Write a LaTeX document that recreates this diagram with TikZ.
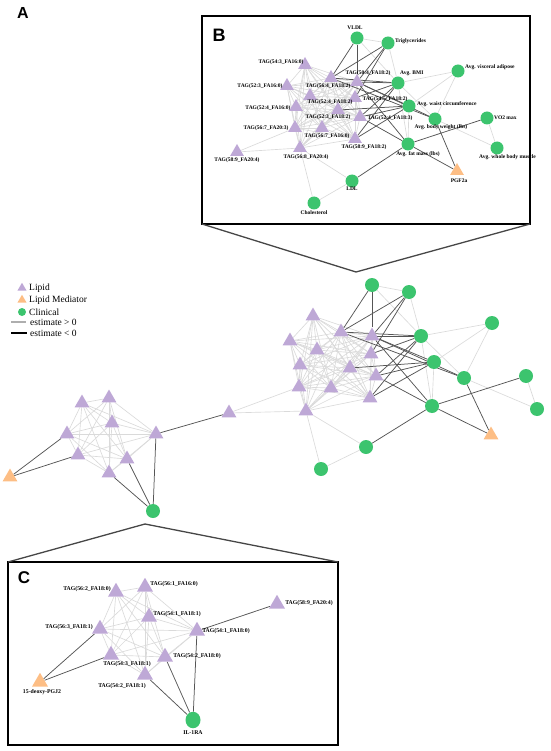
\documentclass[tikz,border=0pt]{standalone}
\usepackage{fontspec}
\setmainfont{Liberation Serif}
\setsansfont{Liberation Sans}
\usetikzlibrary{shapes.geometric}
\pgfdeclarelayer{bg}
\pgfsetlayers{bg,main}
\definecolor{lipidc}{RGB}{190,168,214}
\definecolor{medc}{RGB}{253,190,133}
\definecolor{clinc}{RGB}{60,196,110}
\definecolor{posc}{RGB}{218,218,218}
\definecolor{negc}{RGB}{85,85,85}
\definecolor{zoomc}{RGB}{70,70,70}
\tikzset{
  lip/.style={regular polygon, regular polygon sides=3, fill=lipidc, draw=none, inner sep=0pt, minimum size=17pt},
  med/.style={lip, fill=medc},
  cli/.style={circle, fill=clinc, draw=none, inner sep=0pt, minimum size=14pt},
  lipB/.style={lip, minimum size=16pt},
  medB/.style={med, minimum size=16pt},
  cliB/.style={cli, minimum size=13pt},
  lipC/.style={lip, minimum size=18.5pt},
  medC/.style={med, minimum size=18.5pt},
  cliC/.style={cli, minimum size=15.5pt},
  pe/.style={draw=posc, line width=0.65pt},
  ne/.style={draw=negc, line width=0.75pt},
  lblB/.style={font=\fontsize{5.5}{6}\selectfont\bfseries, inner sep=0pt},
  lblC/.style={font=\fontsize{5.8}{6.5}\selectfont\bfseries, inner sep=0pt},
  leg/.style={font=\fontsize{9.5}{10}\selectfont, inner sep=0pt, anchor=west},
  panel/.style={font=\sffamily\bfseries\fontsize{17}{18}\selectfont, inner sep=0pt},
  boxline/.style={draw=black, line width=2.4pt},
  zoomline/.style={draw=zoomc, line width=1.3pt}
}
\begin{document}
\begin{tikzpicture}[x=1pt,y=-1pt]
\useasboundingbox (0,0) rectangle (550,751);

% ---------- panel letters ----------
\node[panel, font=\sffamily\bfseries\fontsize{16}{17}\selectfont] (pA) at (23,13) {A};
\node[panel, font=\sffamily\bfseries\fontsize{18}{19}\selectfont] (pB) at (219,35) {B};
\node[panel] (pC) at (24,578) {C};

% ---------- legend ----------
\node[lip, minimum size=10.5pt] (lgL) at (22,288) {};
\node[leg] (lgLt) at (29,288) {Lipid};
\node[med, minimum size=10.5pt] (lgM) at (22,300) {};
\node[leg] (lgMt) at (29,300) {Lipid Mediator};
\node[cli, minimum size=8pt] (lgC) at (22,312) {};
\node[leg] (lgCt) at (29,312) {Clinical};
\coordinate (lgP1) at (11,322); \coordinate (lgP2) at (26,322);
\draw[draw=posc!80!black, line width=1.5pt] (lgP1) -- (lgP2);
\node[leg] (lgPt) at (30,322) {estimate > 0};
\coordinate (lgN1) at (11,333); \coordinate (lgN2) at (27,333);
\draw[draw=black, line width=2pt] (lgN1) -- (lgN2);
\node[leg] (lgNt) at (30,333) {estimate < 0};

% ---------- main network: right cluster ----------
\node[lip] (mL1) at (313,316) {};
\node[lip] (mL2) at (290,341) {};
\node[lip] (mL3) at (341,332) {};
\node[lip] (mL4) at (372,336) {};
\node[lip] (mL5) at (317,350) {};
\node[lip] (mL6) at (371,354) {};
\node[lip] (mL7) at (300,365) {};
\node[lip] (mL8) at (350,368) {};
\node[lip] (mL9) at (376,376) {};
\node[lip] (mL10) at (299,387) {};
\node[lip] (mL11) at (331,388) {};
\node[lip] (mL12) at (370,398) {};
\node[lip] (mL13) at (306,411) {};
\node[cli] (mVLDL) at (372,285) {};
\node[cli] (mTRIG) at (409,292) {};
\node[cli] (mBMI) at (421,336) {};
\node[cli] (mVISC) at (492,323) {};
\node[cli] (mWAIST) at (434,362) {};
\node[cli] (mBW) at (464,378) {};
\node[cli] (mVO2) at (526,376) {};
\node[cli] (mWBM) at (537,409) {};
\node[cli] (mFAT) at (432,406) {};
\node[cli] (mLDL) at (366,447) {};
\node[cli] (mCHOL) at (321,469) {};
\node[med] (mPGF) at (491,435) {};

% ---------- main network: left cluster ----------
\node[lip] (lT1) at (82,403) {};
\node[lip] (lT2) at (109,398) {};
\node[lip] (lT3) at (112,423) {};
\node[lip] (lT4) at (67,434) {};
\node[lip] (lT5) at (156,434) {};
\node[lip] (lT6) at (78,455) {};
\node[lip] (lT7) at (127,459) {};
\node[lip] (lT8) at (109,473) {};
\node[lip] (lBr) at (229,413) {};
\node[med] (lPGJ) at (10,477) {};
\node[cli] (lIL) at (153,511) {};

% ---------- panel B ----------
\node[lipB] (bL1) at (305,65) {};
\node[lipB] (bL2) at (287,86) {};
\node[lipB] (bL3) at (331,78) {};
\node[lipB] (bL4) at (357,82) {};
\node[lipB] (bL5) at (310,96) {};
\node[lipB] (bL6) at (355,98) {};
\node[lipB] (bL7) at (296,107) {};
\node[lipB] (bL8) at (338,110) {};
\node[lipB] (bL9) at (360,117) {};
\node[lipB] (bL10) at (295,128) {};
\node[lipB] (bL11) at (322,128) {};
\node[lipB] (bL12) at (355,139) {};
\node[lipB] (bL13) at (300,148) {};
\node[lipB] (bBr) at (237,152) {};
\node[cliB] (bVLDL) at (357,38) {};
\node[cliB] (bTRIG) at (388,43) {};
\node[cliB] (bBMI) at (398,83) {};
\node[cliB] (bVISC) at (458,71) {};
\node[cliB] (bWAIST) at (409,106) {};
\node[cliB] (bBW) at (435,119) {};
\node[cliB] (bVO2) at (487,118) {};
\node[cliB] (bWBM) at (497,148) {};
\node[cliB] (bFAT) at (408,144) {};
\node[cliB] (bLDL) at (352,181) {};
\node[cliB] (bCHOL) at (314,203) {};
\node[medB] (bPGF) at (457,171) {};

% labels B
\node[lblB] (tbVLDL) at (355,28) {VLDL};
\node[lblB, anchor=west] (tbTRIG) at (395,41) {Triglycerides};
\node[lblB, anchor=west] (tbBMI) at (400,73) {Avg. BMI};
\node[lblB, anchor=west] (tbVISC) at (465,67) {Avg. visceral adipose};
\node[lblB, anchor=west] (tbWAIST) at (417,104) {Avg. waist circumference};
\node[lblB] (tbBW) at (441,127) {Avg. body weight (lbs)};
\node[lblB, anchor=west] (tbVO2) at (494,118) {VO2 max};
\node[lblB, anchor=west] (tbWBM) at (479,157) {Avg. whole body muscle};
\node[lblB] (tbFAT) at (418,154) {Avg. fat mass (lbs)};
\node[lblB] (tbPGF) at (459,181) {PGF2a};
\node[lblB] (tbLDL) at (352,189) {LDL};
\node[lblB] (tbCHOL) at (314,213) {Cholesterol};
\node[lblB] (tbL1) at (281,62) {TAG(54:3\_FA16:0)};
\node[lblB] (tbL2) at (260,86) {TAG(52:3\_FA16:0)};
\node[lblB] (tbL3) at (328,86) {TAG(56:4\_FA18:2)};
\node[lblB] (tbL4) at (368,73) {TAG(50:4\_FA18:2)};
\node[lblB] (tbL5) at (330,102) {TAG(52:4\_FA18:2)};
\node[lblB] (tbL6) at (385,99) {TAG(54:5\_FA18:2)};
\node[lblB] (tbL7) at (268,108) {TAG(52:4\_FA16:0)};
\node[lblB] (tbL8) at (328,117) {TAG(52:3\_FA18:2)};
\node[lblB] (tbL9) at (390,118) {TAG(52:4\_FA18:3)};
\node[lblB] (tbL10) at (266,128) {TAG(56:7\_FA20:3)};
\node[lblB] (tbL11) at (327,136) {TAG(56:7\_FA16:0)};
\node[lblB] (tbL12) at (364,147) {TAG(58:9\_FA18:2)};
\node[lblB] (tbL13) at (306,157) {TAG(56:8\_FA20:4)};
\node[lblB] (tbBr) at (237,160) {TAG(58:9\_FA20:4)};

% ---------- panel C ----------
\node[lipC] (cT1) at (116,592) {};
\node[lipC] (cT2) at (145,587) {};
\node[lipC] (cT3) at (149,617) {};
\node[lipC] (cT4) at (100,629) {};
\node[lipC] (cT5) at (197,631) {};
\node[lipC] (cT6) at (111,655) {};
\node[lipC] (cT7) at (165,657) {};
\node[lipC] (cT8) at (145,675) {};
\node[lipC] (cBr) at (277,604) {};
\node[medC] (cPGJ) at (40,682) {};
\node[cliC, minimum width=15pt, minimum height=16.5pt, ellipse] (cIL) at (193,720) {};

\node[lblC] (tcT1) at (87,589) {TAG(56:2\_FA18:0)};
\node[lblC] (tcT2) at (174,584) {TAG(56:1\_FA16:0)};
\node[lblC] (tcT3) at (177,614) {TAG(54:1\_FA18:1)};
\node[lblC] (tcT4) at (69,627) {TAG(56:3\_FA18:1)};
\node[lblC] (tcT5) at (226,631) {TAG(54:1\_FA18:0)};
\node[lblC] (tcT6) at (127,664) {TAG(54:3\_FA18:1)};
\node[lblC] (tcT7) at (197,656) {TAG(54:2\_FA18:0)};
\node[lblC] (tcT8) at (122,686) {TAG(54:2\_FA18:1)};
\node[lblC] (tcBr) at (309,603) {TAG(58:9\_FA20:4)};
\node[lblC] (tcIL) at (193,733) {IL-1RA};
\node[lblC] (tcPGJ) at (42,692) {15-deoxy-PGJ2};

% ---------- boxes & zoom lines ----------
\coordinate (bxB1) at (202,16); \coordinate (bxB2) at (530,224);
\draw[boxline] (bxB1) rectangle (bxB2);
\coordinate (bxBl) at (202,224); \coordinate (bxBr) at (530,224); \coordinate (apB) at (356,272);
\draw[zoomline] (bxBl) -- (apB) -- (bxBr);
\coordinate (bxC1) at (8,562); \coordinate (bxC2) at (338,745);
\draw[boxline, line width=2.2pt] (bxC1) rectangle (bxC2);
\coordinate (bxCr) at (338,562); \coordinate (apC) at (145,524);
\draw[zoomline] (bxC1) -- (apC) -- (bxCr);

% ---------- edges ----------
\begin{pgfonlayer}{bg}
% right cluster (main & B)
\foreach \p in {m,b}{
  \foreach \i in {1,...,13}{\foreach \j in {1,...,13}{\ifnum\i<\j \draw[pe] (\p L\i) -- (\p L\j);\fi}}
  \foreach \a/\b in {L13/LDL, L13/CHOL, LDL/CHOL, VLDL/BMI, TRIG/BMI, VLDL/TRIG,
                     BMI/VISC, BMI/BW, BMI/FAT, VISC/BW, VISC/WAIST, BW/WBM, VO2/WBM, WAIST/FAT}
     {\draw[pe] (\p\a) -- (\p\b);}
  \foreach \a/\b in {VLDL/L3, VLDL/L4,
                     TRIG/L3, TRIG/L4, TRIG/L6,
                     BMI/L3, BMI/L4, BMI/L6, BMI/L9, BMI/L12,
                     WAIST/L4, WAIST/L8, WAIST/L9, WAIST/L12,
                     BW/L3, BW/L4,
                     FAT/L4, FAT/L9,
                     FAT/VO2, FAT/LDL, FAT/PGF, BW/PGF}
     {\draw[ne] (\p\a) -- (\p\b);}
}
\draw[pe] (lBr) -- (mL10);
\draw[pe] (lBr) -- (mL13);
\draw[pe] (bBr) -- (bL10);
\draw[pe] (bBr) -- (bL13);
% left cluster (main & C)
\foreach \p in {l,c}{
  \foreach \i in {1,...,8}{\foreach \j in {1,...,8}{\ifnum\i<\j \draw[pe] (\p T\i) -- (\p T\j);\fi}}
  \foreach \a/\b in {T5/Br, IL/T5, IL/T7, IL/T8, PGJ/T4, PGJ/T6}
     {\draw[ne] (\p\a) -- (\p\b);}
}
\end{pgfonlayer}
\end{tikzpicture}
\end{document}
